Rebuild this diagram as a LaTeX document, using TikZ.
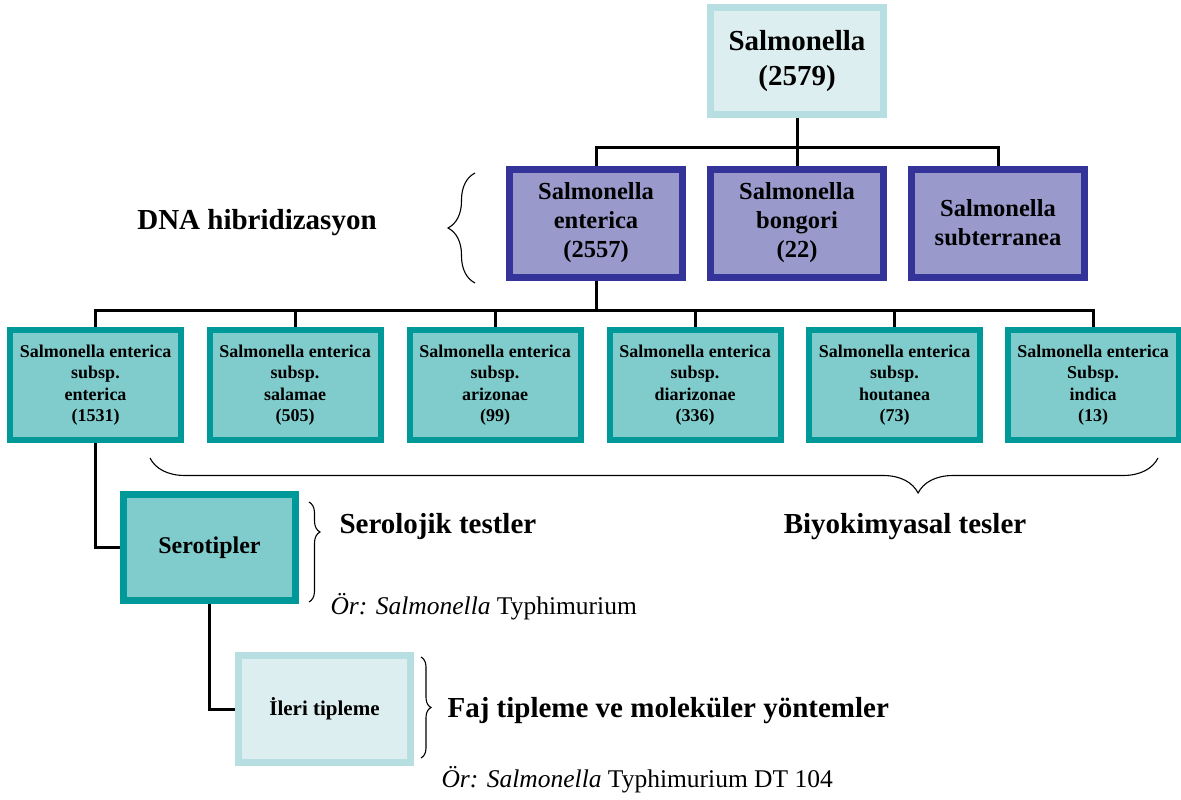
\documentclass[tikz,border=0pt]{standalone}
\usepackage{fontspec}
\setmainfont{Liberation Serif}
\usetikzlibrary{decorations.pathreplacing,backgrounds}
\definecolor{rtfill}{HTML}{DDEEF0}
\definecolor{rtline}{HTML}{B7DEE1}
\definecolor{spfill}{HTML}{9999CC}
\definecolor{spline}{HTML}{333399}
\definecolor{sspfill}{HTML}{80CCCC}
\definecolor{sspline}{HTML}{009999}
\begin{document}
\begin{tikzpicture}[x=1pt,y=-1pt,
    rt/.style={draw=rtline,fill=rtfill,line width=7pt,minimum width=173pt,minimum height=107pt,align=center,font=\fontsize{29}{35}\selectfont\bfseries},
    sp/.style={draw=spline,fill=spfill,line width=7pt,minimum width=173pt,minimum height=108pt,align=center,font=\fontsize{24.5}{29}\selectfont\bfseries},
    ssp/.style={draw=sspline,fill=sspfill,line width=6pt,minimum width=171pt,minimum height=110pt,align=center,font=\fontsize{18}{21.5}\selectfont\bfseries},
    sero/.style={draw=sspline,fill=sspfill,line width=7pt,minimum width=172pt,minimum height=106pt,font=\fontsize{24}{29}\selectfont\bfseries},
    ileri/.style={draw=rtline,fill=rtfill,line width=7pt,minimum width=172pt,minimum height=107pt,font=\fontsize{21}{25}\selectfont\bfseries},
    lbl/.style={font=\fontsize{29}{35}\selectfont\bfseries},
    ex/.style={anchor=west,font=\fontsize{25.5}{30}\selectfont},
    lnk/.style={line width=3pt},
    brc/.style={line width=1.1pt,decorate,decoration={brace,amplitude=#1}}]
  \useasboundingbox (0,0) rectangle (1181,800);
  % top of the tree
  \node[rt] (salm) at (797,61) {Salmonella\\(2579)};
  \node[sp] (ent) at (596,223) {Salmonella\\enterica\\(2557)};
  \node[sp] (bon) at (797,223) {Salmonella\\bongori\\(22)};
  \node[sp] (sub) at (998,223) {Salmonella\\subterranea};
  % subspecies
  \node[ssp] (s1) at (95.5,385) {Salmonella enterica\\subsp.\\enterica\\(1531)};
  \node[ssp] (s2) at (295,385) {Salmonella enterica\\subsp.\\salamae\\(505)};
  \node[ssp] (s3) at (495,385) {Salmonella enterica\\subsp.\\arizonae\\(99)};
  \node[ssp] (s4) at (695,385) {Salmonella enterica\\subsp.\\diarizonae\\(336)};
  \node[ssp] (s5) at (894.5,385) {Salmonella enterica\\subsp.\\houtanea\\(73)};
  \node[ssp] (s6) at (1093,385) {Salmonella enterica\\Subsp.\\indica\\(13)};
  \node[sero] (serotip) at (209.5,547.5) {Serotipler};
  \node[ileri] (ileritip) at (324.5,709) {İleri tipleme};
  % connectors
  \begin{scope}[on background layer]
    \draw[lnk] (ent.north) -- ++(0,-18) -| (salm.south);
    \draw[lnk] (bon.north) -- (salm.south);
    \draw[lnk] (sub.north) -- ++(0,-18) -| (salm.south);
    \foreach \s in {s1,s2,s3,s4,s5,s6}
      \draw[lnk] (\s.north) -- ++(0,-17) -| (ent.south);
    \draw[lnk] (s1.south) |- (serotip.west);
    \draw[lnk] (serotip.south) |- (ileritip.west);
  \end{scope}
  % braces and texts
  \draw[brc=27pt,decoration={aspect=0.5}] (475,283) -- (475,173);
  \node[lbl] (dna) at (257,223) {DNA hibridizasyon};
  \draw[brc=35pt,decoration={aspect=0.238}] (1158,458) -- (150,458);
  \node[lbl] (biyo) at (905,527) {Biyokimyasal tesler};
  \draw[brc=11pt,decoration={aspect=0.3}] (309,502) -- (309,602);
  \node[lbl,anchor=west] (sero) at (336,527) {Serolojik testler};
  \node[ex] (ex1) at (327,607) {\textit{Ör: Salmonella} Typhimurium};
  \draw[brc=10pt,decoration={aspect=0.5}] (421,657) -- (421,758);
  \node[lbl,anchor=west] (faj) at (444,711) {Faj tipleme ve moleküler yöntemler};
  \node[ex] (ex2) at (438,780) {\textit{Ör: Salmonella} Typhimurium DT 104};
\end{tikzpicture}
\end{document}
